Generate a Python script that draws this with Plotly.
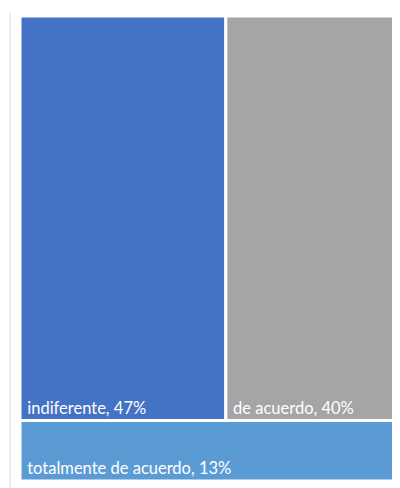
import plotly.graph_objects as go

labels = ["indiferente", "de acuerdo", "totalmente de acuerdo"]
values = [47, 40, 13]
colors = ["#4472C4", "#A5A5A5", "#5B9BD5"]

texts = [f"\u00a0{l}, {v}%" for l, v in zip(labels, values)]

fig = go.Figure(go.Treemap(
    labels=labels,
    parents=[""] * len(labels),
    values=values,
    text=texts,
    texttemplate="%{text}",
    textposition="bottom left",
    textfont=dict(family="Lato", size=16.5, color="white"),
    marker=dict(colors=colors, line=dict(color="white", width=3),
                pad=dict(t=0, l=0, r=0, b=0)),
    tiling=dict(packing="squarify", squarifyratio=1.618, pad=0),
    pathbar=dict(visible=False),
    sort=False,
    hoverinfo="none",
))

fig.update_layout(
    width=400, height=488,
    margin=dict(l=12, r=7, t=8, b=15),
    paper_bgcolor="white",
    showlegend=False,
    shapes=[dict(type="line", xref="paper", yref="paper", x0=-0.026, x1=-0.026, y0=-0.03, y1=1.006,
                 line=dict(color="#D9D9D9", width=1))],
)

fig.write_html("out.html")
